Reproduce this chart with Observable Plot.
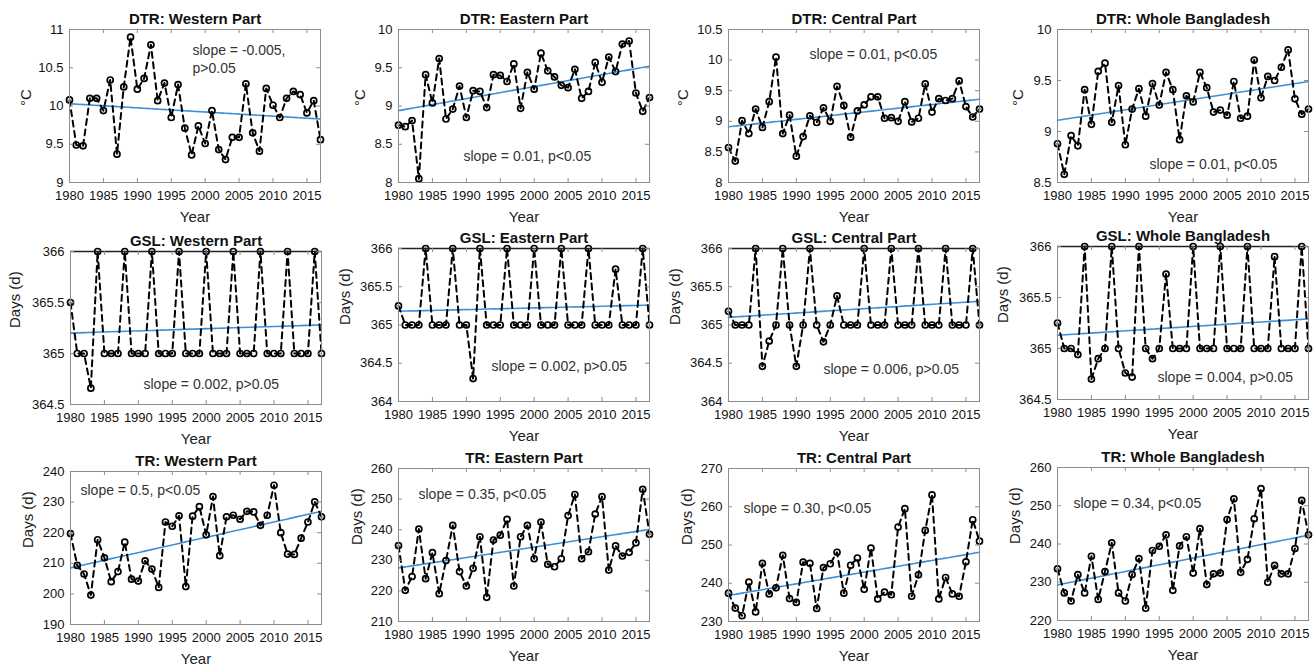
<!DOCTYPE html>
<html><head><meta charset="utf-8">
<script src="https://cdn.jsdelivr.net/npm/d3@7"></script>
<script src="https://cdn.jsdelivr.net/npm/@observablehq/plot@0.6"></script>
<style>
body{margin:0;background:#fff;}
#wrap{position:relative;width:1316px;height:668px;overflow:hidden;background:#fff;}
#wrap svg{position:absolute;overflow:visible;}
</style></head><body><div id="wrap"></div>
<script>
const years = [1980,1981,1982,1983,1984,1985,1986,1987,1988,1989,1990,1991,1992,1993,1994,1995,1996,1997,1998,1999,2000,2001,2002,2003,2004,2005,2006,2007,2008,2009,2010,2011,2012,2013,2014,2015,2016,2017];
const xTicks = [1980,1985,1990,1995,2000,2005,2010,2015];

const dtrWestern = [10.08,9.49,9.48,10.10,10.10,9.94,10.34,9.37,10.25,10.90, 10.22,10.36,10.80,10.07,10.30,9.85,10.28,9.71,9.36,9.74, 9.51,9.94,9.43,9.30,9.59,9.59,10.29,9.65,9.41,10.23, 10.01,9.85,10.10,10.19,10.15,9.91,10.07,9.56];
const dtrEastern = [8.75,8.73,8.81,8.05,9.41,9.04,9.62,8.83,8.96,9.26, 8.85,9.20,9.19,8.98,9.41,9.40,9.32,9.55,8.97,9.44, 9.22,9.69,9.46,9.38,9.27,9.24,9.48,9.10,9.19,9.57, 9.31,9.64,9.45,9.81,9.85,9.17,8.93,9.11];
const dtrCentral = [8.57,8.35,9.01,8.80,9.20,8.90,9.32,10.05,8.80,9.10, 8.43,8.75,9.09,8.98,9.22,9.00,9.57,9.26,8.74,9.17, 9.27,9.40,9.40,9.05,9.06,9.00,9.32,8.99,9.05,9.61, 9.15,9.37,9.34,9.37,9.66,9.24,9.07,9.20];
const dtrWhole = [8.88,8.58,8.96,8.86,9.41,9.07,9.59,9.67,9.09,9.45, 8.87,9.22,9.42,9.15,9.47,9.26,9.58,9.41,8.92,9.35, 9.29,9.58,9.43,9.19,9.21,9.16,9.49,9.13,9.15,9.70, 9.33,9.54,9.50,9.63,9.80,9.32,9.17,9.22];
const gslWestern = [365.5,365,365,364.66,366,365,365,365,366,365, 365,365,366,365,365,365,366,365,365,365, 366,365,365,365,366,365,365,365,366,365, 365,365,366,365,365,365,366,365];
const gslEastern = [365.25,365,365,365,366,365,365,365,366,365, 365,364.3,366,365,365,365,366,365,365,365, 366,365,365,365,366,365,365,365,366,365, 365,365,365.73,365,365,365,366,365];
const gslCentral = [365.18,365,365,365,366,364.46,364.79,365,366,365, 364.46,365,366,365,364.78,365,365.38,365,365,365, 366,365,365,365,366,365,365,365,366,365, 365,365,366,365,365,365,366,365];
const gslWhole = [365.25,365,365,364.94,366,364.7,364.9,365,366,365, 364.76,364.72,366,365,364.9,365,365.73,365,365,365, 366,365,365,365,366,365,365,365,366,365, 365,365,365.9,365,365,365,366,365];
const trWestern = [219.7,209.3,206.5,199.6,217.7,211.8,204.0,207.3,216.9,204.8, 204.2,210.8,208.1,202.1,223.5,222.1,225.5,202.4,225.4,228.5, 219.3,231.8,212.5,225.2,225.7,224.4,227.0,226.8,222.4,225.7, 235.5,220.0,213.0,212.9,218.2,223.5,230.1,225.2];
const trEastern = [234.8,220.2,224.7,240.2,224.0,232.5,219.1,229.9,241.4,226.3, 221.6,227.4,237.7,217.9,236.6,238.2,243.4,221.6,237.7,241.4, 230.5,242.5,228.7,227.9,230.5,244.6,251.5,230.5,232.8,245.1, 250.8,226.8,234.7,231.4,232.6,235.7,253.2,238.5];
const trCentral = [237.4,233.5,231.5,240.3,232.5,245.2,237.2,238.8,247.3,236.0, 235.0,245.5,245.2,233.4,244.1,245.1,248.1,237.4,244.7,246.6, 238.4,249.2,235.9,237.7,237.0,254.7,259.5,236.6,242.2,253.8, 263.1,235.9,241.5,237.2,236.6,245.6,256.6,251.0];
const trWhole = [233.5,227.2,225.1,232.0,227.2,236.8,225.5,232.8,240.3,227.2, 225.1,232.0,236.2,223.2,238.3,239.4,242.4,227.9,239.5,241.9, 232.4,244.0,229.4,232.2,232.4,246.4,251.8,232.6,236.0,246.6, 254.5,230.0,234.4,232.2,232.2,238.8,251.4,242.4];

// trend line values at 1980 and 2017
const trendStart = [10.03, 8.94, 8.91, 9.11, 365.20, 365.18, 365.10, 365.13, 208.5, 227.5, 236.8, 229.3];
const trendEnd   = [9.83, 9.52, 9.36, 9.49, 365.28, 365.26, 365.31, 365.29, 227.0, 240.1, 248.1, 242.3];

const titles = ["DTR: Western Part","DTR: Eastern Part","DTR: Central Part","DTR: Whole Bangladesh",
  "GSL: Western Part","GSL: Eastern Part","GSL: Central Part","GSL: Whole Bangladesh",
  "TR: Western Part","TR: Eastern Part","TR: Central Part","TR: Whole Bangladesh"];
const slopeTexts = ["slope = -0.005,\np>0.05","slope = 0.01, p<0.05","slope = 0.01, p<0.05","slope = 0.01, p<0.05",
  "slope = 0.002, p>0.05","slope = 0.002, p>0.05","slope = 0.006, p>0.05","slope = 0.004, p>0.05",
  "slope = 0.5, p<0.05","slope = 0.35, p<0.05","slope = 0.30, p<0.05","slope = 0.34, p<0.05"];
const yLabels = ["°C","°C","°C","°C","Days (d)","Days (d)","Days (d)","Days (d)","Days (d)","Days (d)","Days (d)","Days (d)"];
const yTicks = [
  [9,9.5,10,10.5,11],[8,8.5,9,9.5,10],[8,8.5,9,9.5,10,10.5],[8.5,9,9.5,10],
  [364.5,365,365.5,366],[364,364.5,365,365.5,366],[364,364.5,365,365.5,366],[364.5,365,365.5,366],
  [190,200,210,220,230,240],[210,220,230,240,250,260],[230,240,250,260,270],[220,230,240,250,260]];
const series = [dtrWestern,dtrEastern,dtrCentral,dtrWhole,gslWestern,gslEastern,gslCentral,gslWhole,trWestern,trEastern,trCentral,trWhole];

// layout (pixels): plot-area left/top, y-label offset, slope text offset
const layout = [
  {l:69,t:29,yl:-43,sx:123,sy:29},{l:398,t:29,yl:-38,sx:65,sy:126},{l:728,t:29,yl:-45,sx:81,sy:24},{l:1057,t:29,yl:-39,sx:92,sy:134},
  {l:70,t:251,yl:-55,sx:73,sy:132},{l:398,t:248,yl:-53,sx:93,sy:117},{l:728,t:248,yl:-53,sx:95,sy:120},{l:1057,t:246,yl:-54,sx:100,sy:130},
  {l:70,t:471,yl:-42,sx:10,sy:18},{l:398,t:468,yl:-41,sx:20,sy:25},{l:728,t:468,yl:-41,sx:15,sy:39},{l:1057,t:467,yl:-42,sx:16,sy:35}];

const FONT = '"Liberation Sans", Arial, Helvetica, sans-serif';
const GRAY = "#8c8c8c";
const W = 251, H = 153, mL = 62, mT = 29, mR = 8, mB = 44;
const wrap = document.getElementById("wrap");

series.forEach((vals, k) => {
  const lay = layout[k];
  const yt = yTicks[k];
  const data = years.map((yr, i) => ({year: yr, v: vals[i]}));
  const trend = [{year: years[0], v: trendStart[k]}, {year: years[years.length - 1], v: trendEnd[k]}];
  const isGSL = k >= 4 && k < 8;
  const marks = [
    Plot.line(trend, {x: "year", y: "v", stroke: "#3a8fd9", strokeWidth: 1.6, strokeDasharray: "7,1.2"}),
    Plot.line(data, {x: "year", y: "v", stroke: "#000", strokeWidth: 2, strokeDasharray: "6,4.5"}),
    Plot.dot(data, {x: "year", y: "v", r: 3, stroke: "#000", strokeWidth: 1.7, fill: "none"}),
    Plot.frame({stroke: GRAY}),
    Plot.tickX(xTicks, {x: d => d, stroke: GRAY, insetTop: H - 4}),
    Plot.tickX(xTicks, {x: d => d, stroke: GRAY, insetBottom: H - 4}),
    Plot.tickY(yt, {y: d => d, stroke: GRAY, insetRight: W - 4}),
    Plot.tickY(yt, {y: d => d, stroke: GRAY, insetLeft: W - 4}),
    Plot.axisX(xTicks, {tickSize: 0, tickPadding: 8, fontSize: 13, fill: "#111", tickFormat: d => String(d), label: null}),
    Plot.axisY(yt, {tickSize: 0, tickPadding: 6, fontSize: 13, fill: "#111", tickFormat: d => String(d), label: null}),
    Plot.text([titles[k]], {frameAnchor: "top", lineAnchor: "middle", dy: -10, fontSize: 15, fontWeight: "bold", fill: "#111"}),
    Plot.text(["Year"], {frameAnchor: "bottom", lineAnchor: "middle", dy: 35, fontSize: 15, fill: "#222"}),
    Plot.text([yLabels[k]], {frameAnchor: "left", lineAnchor: "middle", dx: lay.yl, rotate: -90, fontSize: 15, fill: "#222"}),
    Plot.text([slopeTexts[k]], {frameAnchor: "top-left", lineAnchor: "middle", dx: lay.sx, dy: lay.sy, textAnchor: "start", fontSize: 14, fill: "#333", lineHeight: 1.3})
  ];
  if (isGSL) marks.splice(4, 0, Plot.ruleY([yt[yt.length - 1]], {stroke: "#222", strokeWidth: 1.3}));
  const chart = Plot.plot({
    width: mL + W + mR, height: mT + H + mB,
    marginLeft: mL, marginTop: mT, marginRight: mR, marginBottom: mB,
    style: {fontFamily: FONT, background: "transparent", overflow: "visible"},
    x: {domain: [1980, 2017]},
    y: {domain: [yt[0], yt[yt.length - 1]]},
    marks
  });
  chart.style.left = (lay.l - mL) + "px";
  chart.style.top = (lay.t - mT) + "px";
  wrap.appendChild(chart);
});
</script></body></html>
